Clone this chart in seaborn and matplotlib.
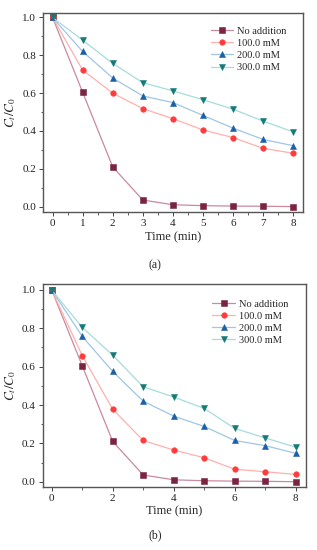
import numpy as np
import pandas as pd
import matplotlib
matplotlib.use("Agg")
import matplotlib.pyplot as plt
from matplotlib.ticker import MultipleLocator
import seaborn as sns

# Data
time_min = [0, 1, 2, 3, 4, 5, 6, 7, 8]
series_names = ["No addition", "100.0 mM", "200.0 mM", "300.0 mM"]

a_none = [1.0, 0.605, 0.21, 0.035, 0.01, 0.005, 0.003, 0.002, 0.0]
a_100 = [1.0, 0.722, 0.60, 0.518, 0.465, 0.405, 0.365, 0.308, 0.282]
a_200 = [1.0, 0.82, 0.68, 0.585, 0.55, 0.482, 0.415, 0.355, 0.322]
a_300 = [1.0, 0.88, 0.757, 0.655, 0.612, 0.565, 0.515, 0.452, 0.395]

b_none = [1.0, 0.605, 0.21, 0.035, 0.01, 0.005, 0.003, 0.002, 0.0]
b_100 = [1.0, 0.658, 0.378, 0.215, 0.165, 0.125, 0.065, 0.052, 0.038]
b_200 = [1.0, 0.758, 0.575, 0.42, 0.342, 0.288, 0.215, 0.188, 0.148]
b_300 = [1.0, 0.805, 0.66, 0.495, 0.442, 0.382, 0.278, 0.228, 0.18]

marker_colors = ["#7a2440", "#ff3b3b", "#1b5fa8", "#137a78"]
line_colors = ["#c98a9c", "#ffb0ae", "#9fc6e6", "#a6dcdc"]
markers = ["s", "o", "^", "v"]

sns.set_style("ticks")
plt.rcParams["font.family"] = ["Liberation Serif", "DejaVu Serif"]
plt.rcParams["mathtext.fontset"] = "stix"
plt.rcParams["axes.edgecolor"] = "#555555"
plt.rcParams["xtick.color"] = "#444444"
plt.rcParams["ytick.color"] = "#444444"
plt.rcParams["xtick.labelcolor"] = "#222222"
plt.rcParams["ytick.labelcolor"] = "#222222"

fig = plt.figure(figsize=(3.17, 5.5), dpi=100)


def draw_panel(ax, data, xlim, ylim, xmajor, legend_anchor):
    for i, vals in enumerate(data):
        df = pd.DataFrame({"t": time_min, "c": vals})
        sns.lineplot(data=df, x="t", y="c", ax=ax, color=line_colors[i],
                     marker=markers[i], markersize=4, linewidth=0.9,
                     markerfacecolor=marker_colors[i],
                     markeredgecolor=marker_colors[i], markeredgewidth=0.4,
                     label=series_names[i])
    ax.set_xlim(*xlim)
    ax.set_ylim(*ylim)
    ax.xaxis.set_major_locator(MultipleLocator(xmajor))
    ax.xaxis.set_minor_locator(MultipleLocator(xmajor / 2))
    ax.yaxis.set_major_locator(MultipleLocator(0.2))
    ax.yaxis.set_minor_locator(MultipleLocator(0.1))
    ax.yaxis.set_major_formatter(plt.FormatStrFormatter("%.1f"))
    ax.tick_params(which="major", length=3, width=0.7, labelsize=8, pad=2)
    ax.tick_params(which="minor", length=1.8, width=0.6)
    for s in ax.spines.values():
        s.set_linewidth(1.0)
    ax.set_xlabel("Time (min)", fontsize=9, labelpad=2)
    ax.set_ylabel(r"$\mathit{C_t/C_0}$", fontsize=9.5, labelpad=3)
    ax.legend(loc="upper left", frameon=False, fontsize=7.5,
              handlelength=2.2, handletextpad=0.35, labelspacing=0.28,
              borderaxespad=0.0, borderpad=0.0, bbox_to_anchor=legend_anchor)


ax_a = fig.add_axes([0.1366, 0.614, 0.818, 0.3615])
draw_panel(ax_a, [a_none, a_100, a_200, a_300], (-0.306, 8.31), (-0.030, 1.021), 1,
           (0.645, 0.935))
fig.text(0.49, 1 - 265 / 550, "(a)", ha="center", va="center", fontsize=8.5)

ax_b = fig.add_axes([0.1347, 0.1151, 0.830, 0.3685])
draw_panel(ax_b, [b_none, b_100, b_200, b_300], (-0.295, 8.33), (-0.026, 1.031), 2,
           (0.645, 0.925))
fig.text(0.49, 1 - 535 / 550, "(b)", ha="center", va="center", fontsize=8.5)

fig.savefig("out.png", dpi=100)
